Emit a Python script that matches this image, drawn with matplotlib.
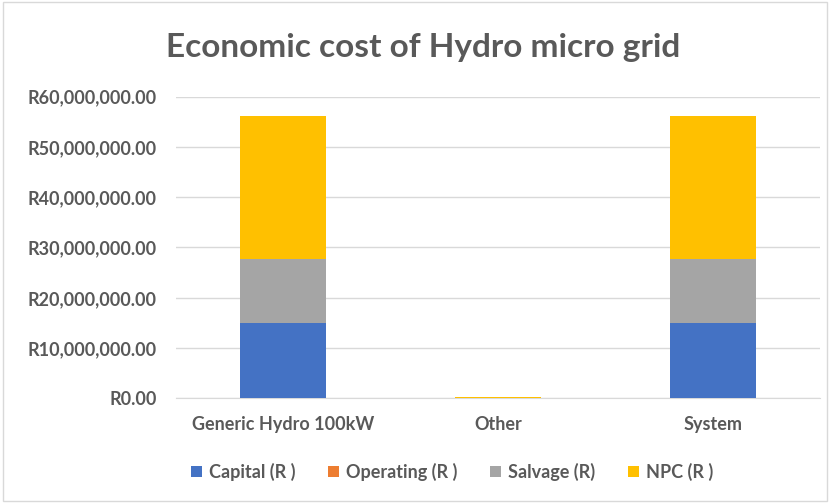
import matplotlib.pyplot as plt
from matplotlib.ticker import FuncFormatter
import numpy as np

categories = ["Generic Hydro 100kW", "Other", "System"]
capital = [14_900_000, 0, 14_900_000]
operating = [0, 0, 0]
salvage = [12_900_000, 0, 12_900_000]
npc = [28_250_000, 300_000, 28_250_000]

series = [("Capital (R )", capital, "#4472C4"),
          ("Operating (R )", operating, "#ED7D31"),
          ("Salvage (R)", salvage, "#A5A5A5"),
          ("NPC (R )", npc, "#FFC000")]

plt.rcParams["font.family"] = ["Lato", "DejaVu Sans"]
plt.rcParams["font.weight"] = "bold"

fig = plt.figure(figsize=(8.3, 5.03), dpi=100)
ax = fig.add_axes([0.212, 0.208, 0.776, 0.6])

x = np.arange(len(categories))
bottom = np.zeros(len(categories))
for label, vals, color in series:
    vals = np.array(vals, dtype=float)
    ax.bar(x, vals, 0.4, bottom=bottom, color=color, label=label, zorder=3)
    bottom += vals

ax.set_ylim(0, 60_000_000)
ax.set_xlim(-0.5, 2.5)
ax.set_yticks(np.arange(0, 60_000_001, 10_000_000))
ax.yaxis.set_major_formatter(FuncFormatter(lambda v, p: f"R{v:,.2f}"))
ax.set_xticks(x)
ax.set_xticklabels(categories)
ax.tick_params(axis="both", length=0, labelsize=13, colors="#595959")
ax.tick_params(axis="x", pad=13)
ax.tick_params(axis="y", pad=14)
ax.grid(axis="y", color="#D9D9D9", linewidth=1, zorder=0)
for side in ["top", "right", "left"]:
    ax.spines[side].set_visible(False)
ax.spines["bottom"].set_color("#D9D9D9")

fig.text(0.51, 0.905, "Economic cost of Hydro micro grid", ha="center", va="center",
         fontsize=24, fontweight="bold", color="#595959")

fig.legend(loc="center", bbox_to_anchor=(0.545, 0.062), ncol=4, frameon=False,
           fontsize=13, handlelength=0.6, handleheight=0.6, columnspacing=1.8,
           handletextpad=0.4, labelcolor="#595959")

border = plt.Rectangle((0.004, 0.004), 0.992, 0.992, transform=fig.transFigure,
                       fill=False, edgecolor="#D9D9D9", linewidth=1)
fig.patches.append(border)

fig.savefig("out.png", dpi=100)
